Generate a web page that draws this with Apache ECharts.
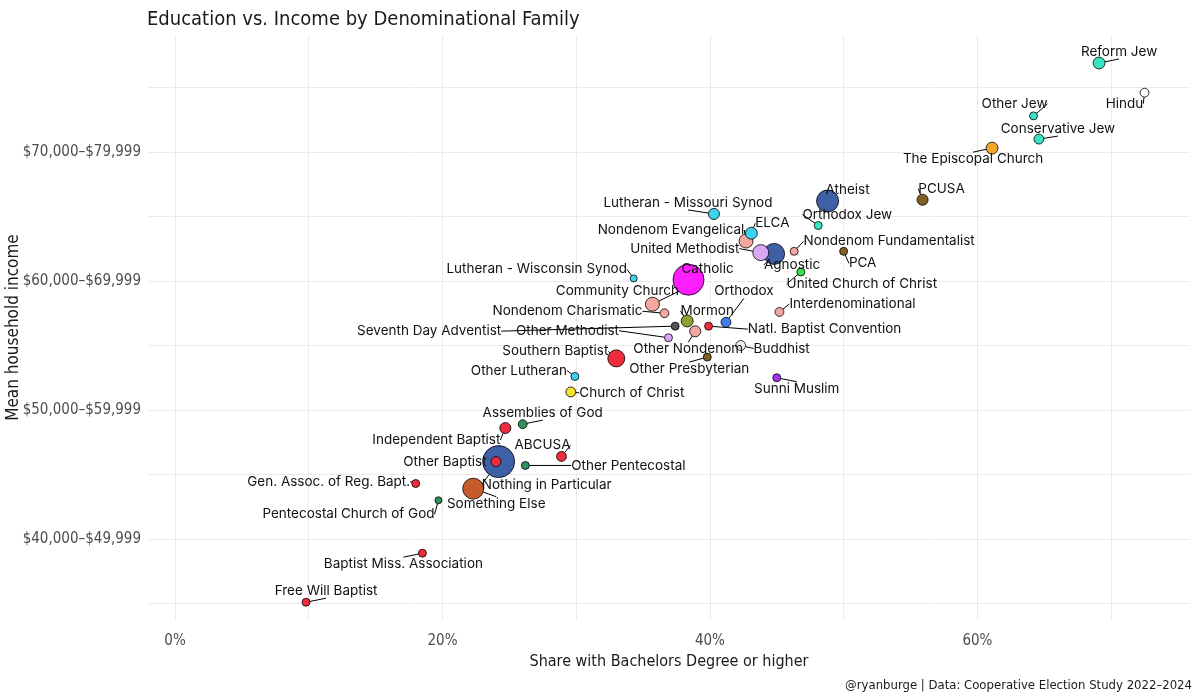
<!DOCTYPE html>
<html>
<head>
<meta charset="utf-8">
<title>Education vs. Income by Denominational Family</title>
<script src="https://cdn.jsdelivr.net/npm/echarts@6/dist/echarts.min.js"></script>
<style>
  html, body { margin: 0; padding: 0; background: #fff; }
  #chart { width: 1200px; height: 700px; }
</style>
</head>
<body>
<div id="chart"></div>
<script>
const NARROW = "'Liberation Sans Narrow', 'DejaVu Sans Condensed', sans-serif";
const LABEL_FONT = "Inter, 'Noto Sans', sans-serif";

// one entry per group
const groups = [
  'Reform Jew', 'Hindu', 'Other Jew', 'Conservative Jew', 'The Episcopal Church',
  'Atheist', 'PCUSA', 'Lutheran - Missouri Synod', 'Orthodox Jew', 'ELCA',
  'Nondenom Evangelical', 'United Methodist', 'Agnostic', 'Nondenom Fundamentalist', 'PCA',
  'United Church of Christ', 'Lutheran - Wisconsin Synod', 'Catholic', 'Community Church', 'Nondenom Charismatic',
  'Interdenominational', 'Mormon', 'Orthodox', 'Seventh Day Adventist', 'Natl. Baptist Convention',
  'Other Nondenom', 'Other Methodist', 'Buddhist', 'Southern Baptist', 'Other Presbyterian',
  'Other Lutheran', 'Church of Christ', 'Sunni Muslim', 'Assemblies of God', 'Independent Baptist',
  'ABCUSA', 'Nothing in Particular', 'Other Baptist', 'Other Pentecostal', 'Gen. Assoc. of Reg. Bapt.',
  'Something Else', 'Pentecostal Church of God', 'Baptist Miss. Association', 'Free Will Baptist'
];
const family = [
  'Jewish', 'Hindu', 'Jewish', 'Jewish', 'Episcopal',
  'None', 'Presbyterian', 'Lutheran', 'Jewish', 'Lutheran',
  'Nondenom', 'Methodist', 'None', 'Nondenom', 'Presbyterian',
  'UCC', 'Lutheran', 'Catholic', 'Nondenom', 'Nondenom',
  'Nondenom', 'Mormon', 'Orthodox', 'Adventist', 'Baptist',
  'Nondenom', 'Methodist', 'Buddhist', 'Baptist', 'Presbyterian',
  'Lutheran', 'Restorationist', 'Muslim', 'Pentecostal', 'Baptist',
  'Baptist', 'None', 'Baptist', 'Pentecostal', 'Baptist',
  'Other', 'Pentecostal', 'Baptist', 'Baptist'
];
// share with a bachelors degree or higher (%)
const bachelorsPct = [
  69.1, 72.5, 64.2, 64.6, 61.1,
  48.8, 55.9, 40.3, 48.1, 43.1,
  42.7, 43.8, 44.8, 46.3, 50.0,
  46.8, 34.3, 38.4, 35.7, 36.6,
  45.2, 38.3, 41.2, 37.4, 39.9,
  38.9, 36.9, 42.3, 33.0, 39.8,
  29.9, 29.6, 45.0, 26.0, 24.7,
  28.9, 24.2, 24.0, 26.2, 18.0,
  22.3, 19.7, 18.5, 9.8
];
// mean household income on the income-bracket scale (5 = $40,000–$49,999)
const incomeBracket = [
  8.69, 8.46, 8.28, 8.10, 8.03,
  7.62, 7.63, 7.52, 7.43, 7.37,
  7.31, 7.22, 7.21, 7.23, 7.23,
  7.07, 7.02, 7.01, 6.82, 6.75,
  6.76, 6.69, 6.68, 6.65, 6.65,
  6.61, 6.56, 6.50, 6.40, 6.41,
  6.26, 6.14, 6.25, 5.89, 5.86,
  5.64, 5.60, 5.60, 5.57, 5.43,
  5.39, 5.30, 4.89, 4.51
];
// relative sample share (%), drives point size
const sampleShare = [
  2.9, 1.6, 1.3, 2.0, 2.9,
  9.9, 2.5, 2.5, 1.3, 2.9,
  4.0, 5.2, 9.0, 1.3, 1.3,
  1.3, 1.0, 19.6, 4.0, 1.6,
  1.6, 2.9, 2.0, 1.3, 1.3,
  2.5, 1.3, 2.0, 5.9, 1.3,
  1.3, 2.0, 1.3, 1.6, 2.5,
  2.0, 20.9, 2.0, 1.3, 1.3,
  9.0, 1.0, 1.3, 1.3
];

const xTickValues = [0, 20, 40, 60];
const xGridValues = [0, 10, 20, 30, 40, 50, 60, 70];
const yTickValues = [5, 6, 7, 8];
const yTickLabels = ['$40,000–$49,999', '$50,000–$59,999', '$60,000–$69,999', '$70,000–$79,999'];
const yGridValues = [4.5, 5, 5.5, 6, 6.5, 7, 7.5, 8, 8.5];

const familyColors = {
  Jewish: '#38e3c4', Hindu: '#ffffff', Episcopal: '#f6a628', None: '#3f5fa6',
  Presbyterian: '#7f5f26', Lutheran: '#3fd2ee', Nondenom: '#f4a7a1', Methodist: '#d8a9f2',
  UCC: '#35e24c', Catholic: '#ff1eff', Mormon: '#8da232', Orthodox: '#3f7fe9',
  Adventist: '#555555', Baptist: '#ef2c3b', Buddhist: '#eeeeee', Restorationist: '#f6e12f',
  Muslim: '#a133f0', Pentecostal: '#318f5e', Other: '#c75a2b'
};

// label centre offset from its point, px (repel layout)
const labelNudge = {
  'Reform Jew': [20, -11], 'Hindu': [-20, 11], 'Other Jew': [-19, -12],
  'Conservative Jew': [19, -10], 'The Episcopal Church': [-19, 11], 'PCUSA': [19, -11],
  'Atheist': [20, -11], 'Orthodox Jew': [29, -11], 'Lutheran - Missouri Synod': [-26, -11],
  'ELCA': [21, -10], 'Nondenom Evangelical': [-75, -11], 'United Methodist': [-76, -4],
  'Agnostic': [18, 11], 'Nondenom Fundamentalist': [95, -10], 'PCA': [19, 12],
  'United Church of Christ': [61, 12], 'Lutheran - Wisconsin Synod': [-97, -9], 'Catholic': [19, -11],
  'Community Church': [-35, -13], 'Nondenom Charismatic': [-97, -2], 'Interdenominational': [73, -8],
  'Mormon': [20, -10], 'Orthodox': [18, -31], 'Seventh Day Adventist': [-246, 5],
  'Natl. Baptist Convention': [116, 3], 'Other Nondenom': [-7, 18], 'Other Methodist': [-101, -7],
  'Buddhist': [41, 3], 'Southern Baptist': [-61, -7], 'Other Presbyterian': [-18, 12],
  'Other Lutheran': [-56, -6], 'Church of Christ': [61, 1], 'Sunni Muslim': [20, 11],
  'Assemblies of God': [20, -11], 'Independent Baptist': [-69, 12], 'ABCUSA': [-19, -11],
  'Nothing in Particular': [48, 23], 'Other Baptist': [-51, 0], 'Other Pentecostal': [103, 0],
  'Gen. Assoc. of Reg. Bapt.': [-87, -2], 'Something Else': [23, 15],
  'Pentecostal Church of God': [-90, 14], 'Baptist Miss. Association': [-19, 11],
  'Free Will Baptist': [20, -11]
};

// big circles first so small ones sit on top
const points = groups.map((g, i) => ({
  name: g,
  value: [bachelorsPct[i], incomeBracket[i], sampleShare[i]],
  itemStyle: { color: familyColors[family[i]] }
})).sort((a, b) => b.value[2] - a.value[2]);

const chart = echarts.init(document.getElementById('chart'));

chart.setOption({
  animation: false,
  backgroundColor: '#ffffff',
  title: {
    text: 'Education vs. Income by Denominational Family',
    left: 142,
    top: 5,
    textStyle: { fontFamily: NARROW, fontSize: 20, fontWeight: 'normal', color: '#1a1a1a' }
  },
  graphic: [{
    type: 'text',
    right: 8,
    top: 679,
    style: {
      text: '@ryanburge | Data: Cooperative Election Study 2022–2024',
      font: "13px " + NARROW,
      fill: '#1a1a1a'
    }
  }],
  grid: { left: 148, right: 10, top: 35, bottom: 80, outerBoundsMode: 'none' },
  xAxis: {
    type: 'value',
    min: -2.02,
    max: 75.9,
    name: 'Share with Bachelors Degree or higher',
    nameLocation: 'middle',
    nameGap: 34,
    nameTextStyle: { fontFamily: NARROW, fontSize: 16, color: '#1a1a1a' },
    axisLine: { show: false },
    axisTick: { show: false, customValues: xGridValues },
    axisLabel: {
      customValues: xTickValues,
      formatter: (v) => Math.round(v) + '%',
      fontFamily: NARROW, fontSize: 15, color: '#4d4d4d', margin: 14
    },
    splitLine: { show: true, lineStyle: { color: '#ebebeb', width: 1 } }
  },
  yAxis: {
    type: 'value',
    min: 4.372,
    max: 8.907,
    name: 'Mean household income',
    nameLocation: 'middle',
    nameGap: 126,
    nameRotate: 90,
    nameMoveOverlap: false,
    nameTextStyle: { fontFamily: NARROW, fontSize: 17, color: '#1a1a1a' },
    axisLine: { show: false },
    axisTick: { show: false, customValues: yGridValues },
    axisLabel: {
      customValues: yTickValues,
      formatter: (v) => yTickLabels[yTickValues.indexOf(Math.round(v))] || '',
      fontFamily: NARROW, fontSize: 15, color: '#4d4d4d', margin: 7
    },
    splitLine: { show: true, lineStyle: { color: '#ebebeb', width: 1 } }
  },
  series: [{
    type: 'scatter',
    data: points,
    symbolSize: (v) => Math.max(6, 7 * Math.sqrt(v[2])),
    itemStyle: { borderColor: '#000', borderWidth: 0.8, opacity: 1 },
    label: {
      show: true,
      position: 'inside',
      formatter: '{b}',
      fontFamily: LABEL_FONT,
      fontSize: 13.5,
      color: '#111'
    },
    labelLine: { show: true, lineStyle: { color: '#000', width: 1 } },
    labelLayout: (p) => {
      const d = labelNudge[points[p.dataIndex].name] || [0, 0];
      return { dx: d[0], dy: d[1] };
    },
    emphasis: { disabled: true }
  }]
});
</script>
</body>
</html>
